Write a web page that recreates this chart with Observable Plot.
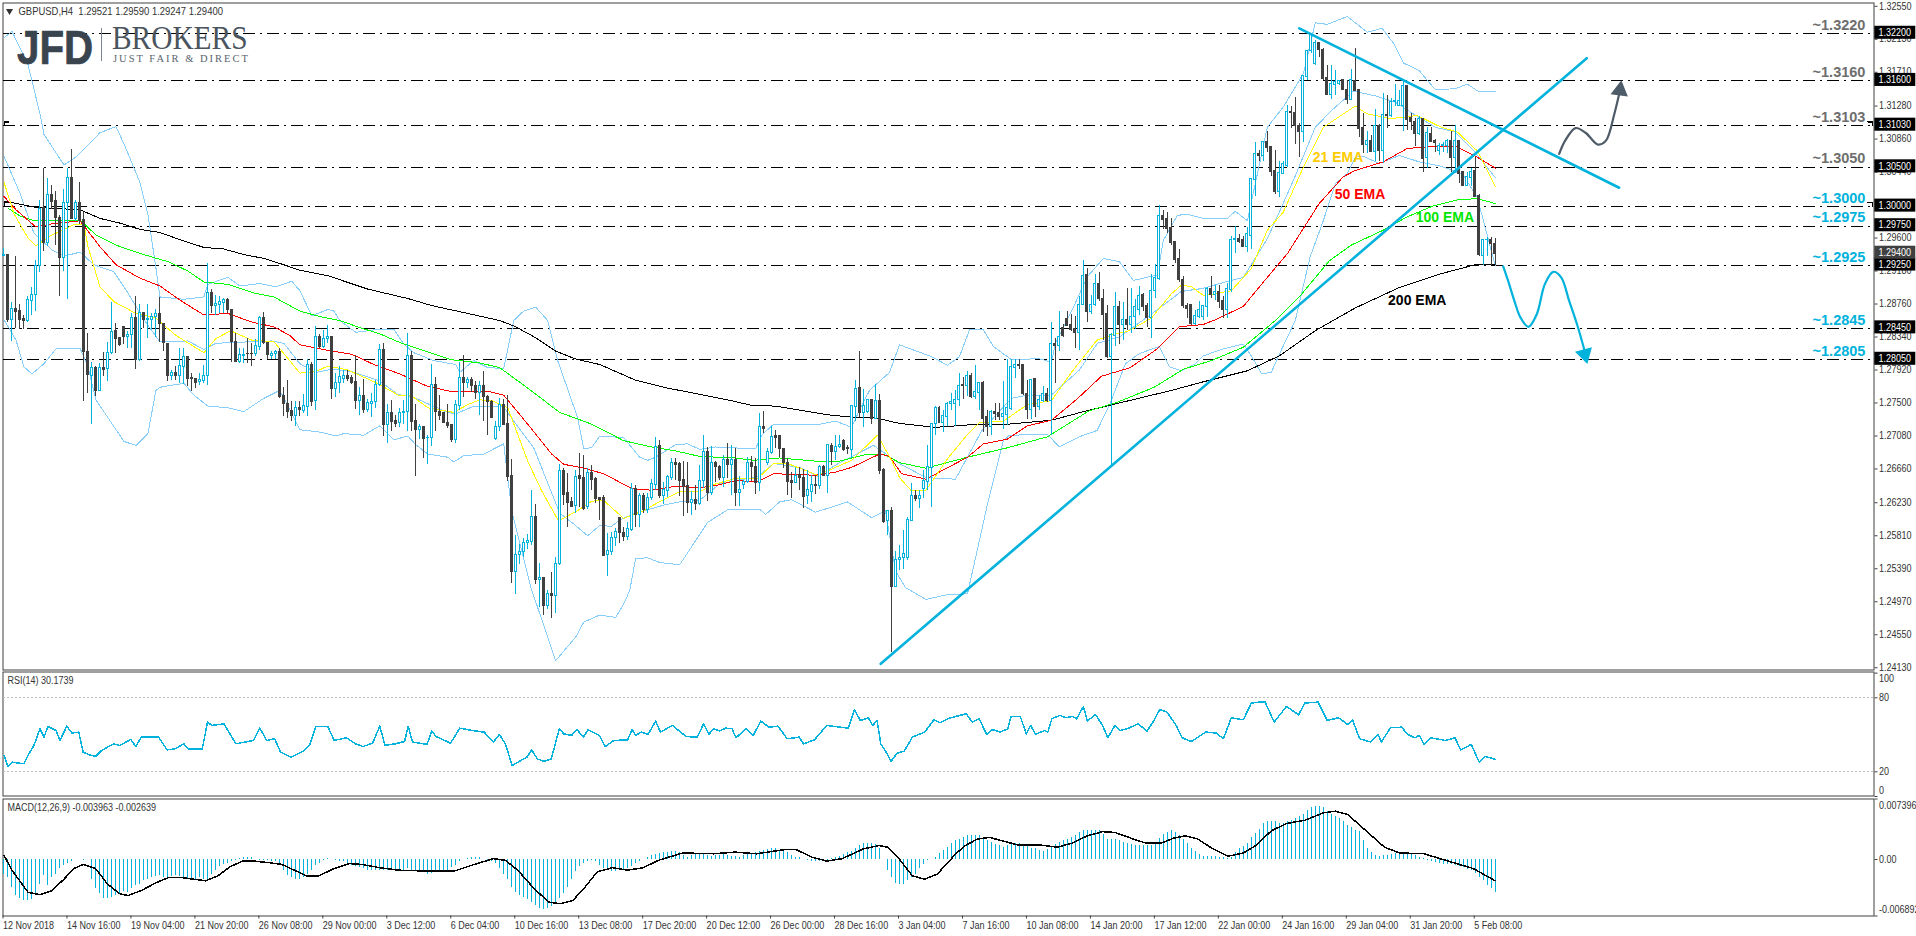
<!DOCTYPE html>
<html><head><meta charset="utf-8">
<script src="https://cdn.jsdelivr.net/npm/d3@7"></script>
<script src="https://cdn.jsdelivr.net/npm/@observablehq/plot@0.6"></script>
<style>
html,body{margin:0;padding:0;background:#fff;overflow:hidden}
#chart{position:relative;width:1916px;height:936px;background:#fff}
#chart>div.pane{position:absolute;left:0}
#chart svg{display:block;background:transparent}
.logo{position:absolute;white-space:nowrap;transform-origin:left top;line-height:1}
</style></head><body><div id="chart"></div>
<script>
// Prices are in ten-thousandths (12975 = 1.2975); one row per ten bars.
const open=[12937,12939,12856,12870,12867,12857,12854,12880,12888,12925,
12998,12954,13015,13007,12986,12935,13004,13037,12984,13004,
12983,12815,12785,12795,12765,12794,12793,12814,12842,12833,
12847,12834,12836,12858,12805,12864,12856,12856,12859,12863,
12850,12825,12785,12788,12784,12796,12808,12782,12780,12777,
12778,12785,12890,12874,12875,12877,12881,12869,12828,12802,
12810,12813,12813,12812,12821,12858,12826,12810,12813,12815,
12759,12749,12740,12734,12744,12740,12745,12799,12752,12834,
12821,12831,12834,12768,12775,12781,12785,12782,12777,12753,
12759,12741,12749,12751,12773,12817,12722,12737,12727,12725,
12737,12738,12810,12727,12716,12720,12705,12705,12773,12739,
12737,12725,12722,12703,12746,12782,12775,12779,12772,12763,
12771,12758,12751,12704,12719,12748,12723,12657,12535,12557,
12560,12572,12573,12605,12525,12527,12492,12507,12504,12545,
12663,12635,12624,12619,12657,12654,12617,12661,12653,12629,
12629,12556,12560,12578,12603,12585,12580,12588,12640,12608,
12631,12614,12629,12646,12695,12631,12638,12654,12674,12672,
12652,12644,12623,12626,12622,12651,12688,12635,12674,12669,
12654,12677,12671,12677,12635,12646,12650,12673,12669,12648,
12719,12674,12686,12708,12708,12691,12674,12651,12648,12658,
12655,12631,12637,12646,12644,12668,12657,12695,12688,12694,
12702,12693,12690,12745,12769,12737,12738,12754,12730,12752,
12665,12600,12612,12516,12550,12553,12553,12600,12632,12628,
12640,12650,12667,12723,12744,12725,12732,12749,12749,12754,
12773,12771,12785,12758,12763,12775,12732,12719,12739,12737,
12732,12735,12742,12795,12799,12798,12762,12741,12780,12745,
12753,12761,12753,12825,12823,12846,12857,12849,12844,12839,
12875,12913,12866,12875,12901,12883,12863,12809,12835,12872,
12849,12856,12849,12860,12869,12888,12874,12858,12892,12908,
12988,12984,12973,12955,12933,12906,12873,12875,12851,12860,
12859,12872,12895,12888,12891,12880,12868,12894,12957,12959,
12957,12949,12963,13034,13067,13065,13082,13076,13045,13019,
13042,13052,13120,13119,13103,13095,13165,13198,13182,13208,
13200,13164,13142,13155,13156,13161,13149,13136,13160,13148,
13100,13079,13084,13070,13103,13071,13117,13115,13133,13128,
13128,13153,13113,13108,13092,13111,13062,13093,13083,13071,
13077,13077,13084,13062,13084,13044,13026,13037,13045,13013,
12937,12957,12957,12952];
const high=[12947,12939,12878,12936,12875,12862,12885,12897,12931,13008,
13048,13036,13027,13019,12989,13022,13048,13073,13008,13031,
12993,12839,12802,12797,12800,12814,12827,12878,12851,12833,
12847,12841,12864,12885,12875,12864,12875,12864,12869,12884,
12850,12825,12792,12796,12820,12820,12808,12788,12780,12788,
12798,12928,12894,12887,12885,12883,12883,12869,12839,12819,
12819,12832,12826,12831,12860,12865,12827,12815,12817,12820,
12770,12779,12752,12752,12752,12761,12806,12802,12847,12837,
12842,12849,12834,12787,12797,12791,12791,12785,12810,12770,
12780,12755,12762,12779,12825,12826,12748,12753,12734,12743,
12753,12839,12816,12748,12723,12720,12708,12799,12783,12760,
12737,12748,12722,12753,12801,12811,12782,12782,12778,12778,
12790,12759,12753,12727,12756,12755,12759,12678,12581,12570,
12577,12583,12638,12621,12546,12528,12511,12534,12553,12672,
12666,12660,12630,12664,12686,12683,12666,12671,12655,12630,
12632,12584,12585,12590,12603,12592,12598,12647,12645,12635,
12635,12635,12652,12706,12702,12649,12658,12679,12679,12674,
12675,12674,12637,12645,12671,12709,12693,12694,12675,12671,
12683,12698,12696,12692,12656,12651,12681,12682,12679,12736,
12739,12692,12720,12715,12708,12691,12679,12662,12668,12668,
12665,12664,12658,12658,12671,12671,12697,12698,12709,12708,
12703,12696,12747,12779,12816,12767,12755,12754,12773,12761,
12666,12613,12617,12561,12568,12588,12604,12647,12638,12638,
12664,12696,12724,12745,12746,12741,12750,12762,12766,12788,
12783,12790,12788,12798,12776,12778,12741,12741,12749,12749,
12778,12805,12805,12805,12805,12798,12779,12780,12781,12760,
12771,12769,12853,12832,12867,12850,12866,12863,12860,12885,
12932,12921,12887,12913,12916,12894,12874,12839,12891,12879,
12878,12896,12896,12882,12898,12889,12877,12913,12926,13002,
12995,12993,12985,12955,12945,12911,12877,12875,12868,12879,
12874,12897,12911,12900,12900,12885,12902,12962,12975,12964,
12962,12974,13035,13082,13071,13083,13095,13077,13071,13057,
13058,13129,13128,13139,13106,13167,13199,13221,13212,13209,
13201,13180,13180,13173,13161,13161,13161,13175,13201,13149,
13118,13096,13091,13123,13104,13144,13142,13137,13156,13148,
13161,13154,13118,13112,13115,13112,13101,13101,13086,13080,
13082,13086,13095,13103,13084,13044,13044,13049,13063,13016,
12958,12961,12961,12959];
const low=[12936,12852,12828,12845,12844,12843,12853,12861,12867,12916,
12943,12949,12996,12951,12885,12917,12882,12983,12981,12977,
12752,12762,12723,12758,12764,12784,12777,12812,12813,12822,
12824,12819,12819,12793,12803,12845,12832,12843,12834,12827,
12815,12777,12779,12779,12775,12773,12771,12764,12769,12772,
12775,12772,12864,12862,12864,12864,12864,12802,12802,12800,
12800,12800,12796,12809,12817,12825,12805,12805,12805,12756,
12733,12730,12726,12720,12733,12736,12733,12746,12741,12820,
12819,12826,12754,12757,12762,12775,12778,12774,12742,12734,
12736,12738,12731,12743,12771,12707,12698,12714,12719,12719,
12723,12714,12714,12657,12704,12679,12672,12695,12714,12728,
12724,12718,12700,12698,12741,12757,12768,12763,12755,12734,
12726,12709,12731,12702,12714,12721,12650,12520,12506,12545,
12553,12564,12568,12519,12490,12479,12487,12476,12482,12543,
12619,12591,12617,12609,12617,12613,12615,12638,12622,12600,
12554,12529,12556,12567,12571,12574,12575,12587,12592,12592,
12609,12609,12626,12639,12628,12621,12630,12651,12651,12631,
12606,12609,12607,12613,12620,12641,12625,12632,12649,12651,
12643,12654,12632,12618,12618,12640,12647,12650,12634,12637,
12711,12671,12685,12692,12680,12666,12632,12629,12647,12639,
12616,12621,12623,12634,12640,12656,12635,12671,12677,12692,
12688,12685,12679,12726,12731,12719,12736,12723,12729,12659,
12597,12581,12432,12515,12537,12538,12549,12600,12624,12616,
12628,12638,12617,12709,12725,12712,12720,12741,12720,12746,
12754,12758,12756,12754,12741,12713,12707,12708,12728,12728,
12716,12721,12741,12781,12793,12760,12729,12729,12732,12741,
12751,12751,12709,12775,12816,12833,12847,12841,12820,12817,
12874,12853,12863,12873,12879,12830,12807,12671,12822,12825,
12830,12842,12839,12844,12862,12866,12846,12832,12883,12906,
12971,12966,12951,12927,12904,12870,12858,12849,12849,12858,
12855,12859,12883,12881,12870,12857,12857,12891,12940,12953,
12948,12941,12946,13013,13057,13058,13069,13038,13016,13012,
13041,13050,13099,13079,13062,13081,13161,13195,13180,13190,
13161,13142,13136,13142,13154,13148,13130,13135,13147,13088,
13068,13068,13069,13057,13057,13055,13100,13114,13127,13127,
13096,13097,13097,13077,13091,13043,13049,13081,13069,13065,
13069,13067,13044,13042,13029,13026,13025,13025,13011,12937,
12925,12937,12925,12925];
const close=[12939,12856,12870,12866,12856,12855,12881,12888,12925,12997,
12954,13015,13006,12985,12935,13004,13036,12984,13004,12982,
12815,12786,12794,12765,12794,12792,12814,12841,12831,12824,
12834,12837,12858,12805,12864,12856,12857,12859,12863,12850,
12827,12784,12788,12785,12797,12808,12781,12781,12776,12779,
12785,12890,12874,12876,12878,12881,12868,12828,12802,12811,
12811,12812,12812,12822,12858,12826,12811,12813,12815,12757,
12749,12739,12734,12743,12741,12746,12798,12751,12834,12821,
12832,12834,12768,12775,12783,12784,12780,12775,12753,12759,
12741,12750,12751,12773,12817,12722,12737,12726,12723,12737,
12738,12810,12726,12716,12720,12704,12706,12773,12738,12733,
12724,12721,12703,12747,12782,12775,12779,12771,12763,12771,
12757,12751,12731,12720,12748,12722,12656,12535,12557,12560,
12572,12574,12605,12525,12527,12492,12507,12504,12545,12663,
12633,12623,12618,12656,12653,12615,12661,12652,12628,12627,
12555,12561,12578,12586,12584,12580,12589,12640,12608,12631,
12614,12629,12647,12694,12631,12639,12656,12674,12671,12651,
12643,12623,12626,12621,12651,12687,12635,12673,12668,12654,
12677,12671,12677,12635,12639,12650,12673,12668,12648,12719,
12717,12687,12707,12706,12691,12674,12649,12648,12657,12654,
12630,12639,12646,12644,12668,12657,12696,12688,12694,12696,
12690,12692,12746,12768,12737,12746,12754,12730,12752,12664,
12599,12612,12516,12550,12553,12558,12601,12631,12628,12631,
12651,12668,12723,12743,12725,12733,12749,12751,12754,12772,
12771,12785,12757,12764,12775,12730,12719,12739,12736,12732,
12736,12743,12796,12799,12797,12761,12741,12779,12745,12754,
12761,12753,12825,12822,12834,12835,12848,12843,12839,12875,
12912,12866,12875,12901,12882,12862,12809,12836,12872,12849,
12856,12849,12860,12872,12886,12872,12858,12892,12909,12988,
12983,12972,12954,12932,12906,12873,12870,12851,12861,12868,
12873,12895,12888,12891,12878,12868,12895,12957,12959,12955,
12949,12965,13035,13067,13065,13082,13074,13044,13018,13043,
13054,13120,13119,13102,13095,13166,13198,13219,13208,13199,
13163,13142,13156,13158,13160,13148,13136,13161,13147,13099,
13079,13084,13070,13103,13071,13117,13115,13133,13135,13135,
13153,13110,13108,13092,13111,13061,13094,13082,13081,13077,
13078,13084,13062,13084,13042,13026,13038,13044,13012,12938,
12957,12958,12952,12940];

// Moving averages and Bollinger Bands: [bar, price]
const ema21=[[0,13031],[2.5,12991],[6,12960],[8,12950],[12,12964],[13,12966],[17.5,12977],[20,12977],[21,12949],[24,12898],[27.5,12879],[33,12864],[38,12858],[43,12836],[50,12814],[53,12832],[56.7,12842],[62,12830],[67.5,12828],[70,12813],[74,12788],[78,12790],[81,12797],[86,12792],[93,12776],[99,12759],[102,12759],[106,12744],[112.5,12738],[116,12748],[119,12754],[122,12753],[126,12744],[131,12676],[134.5,12638],[138.7,12600],[143.5,12613],[147,12625],[150,12626],[155,12603],[160,12613],[163.5,12623],[169,12637],[174,12637],[178,12647],[183,12654],[188.5,12654],[192.5,12673],[196,12673],[203.5,12658],[212,12677],[218.5,12709],[222,12677],[224,12655],[227,12638],[230.6,12639],[236,12679],[241,12710],[244,12725],[250,12727],[256,12748],[262,12753],[267,12789],[273.4,12830],[278,12838],[281,12841],[287,12858],[292,12889],[294.5,12900],[297,12898],[300,12887],[303,12889],[307,12893],[312,12921],[316,12970],[320,12993],[325,13050],[330,13101],[335,13118],[338,13128],[341,13118],[347,13112],[353.5,13116],[359.5,13101],[363.5,13095],[368.5,13071],[373,13026]];
const ema50=[[0,13013],[3,12996],[8,12974],[12,12978],[19,12982],[24,12949],[28,12926],[34,12909],[39,12899],[44,12881],[50,12862],[56,12864],[62,12853],[67.5,12847],[71.5,12836],[74,12824],[80,12818],[87,12812],[92.5,12799],[99,12787],[106,12771],[112.5,12764],[121,12765],[125,12760],[131,12723],[137,12685],[140,12672],[145,12667],[150,12660],[157,12641],[162,12639],[168,12644],[174,12642],[178,12645],[183,12651],[188.5,12650],[192.5,12660],[203,12658],[208,12662],[212,12668],[219,12685],[221.5,12682],[224.5,12660],[230.6,12653],[241,12681],[245,12698],[251,12704],[256,12721],[262,12728],[268.4,12755],[274.5,12784],[281.7,12795],[288.5,12819],[294,12847],[300,12850],[303,12856],[310,12873],[316,12910],[321,12940],[329,13004],[335,13038],[338,13046],[345,13057],[351,13074],[356,13076],[363.5,13076],[368.5,13063],[373,13049]];
const ema100=[[1,12998],[4,12988],[7.5,12982],[12,12982],[19,12983],[23,12964],[28,12951],[32.5,12943],[37.5,12935],[41,12930],[46,12918],[50,12904],[56,12901],[62.5,12890],[67.5,12885],[74,12867],[79,12860],[84,12855],[89,12846],[94,12838],[99,12827],[106,12815],[112,12805],[119,12801],[124,12795],[131,12769],[139,12738],[146,12725],[149,12718],[155,12702],[162,12694],[168,12689],[174,12682],[183,12680],[187.5,12677],[194,12680],[203,12676],[209,12676],[216,12685],[220,12685],[224,12674],[230.6,12667],[241,12681],[251,12693],[261,12707],[271.4,12740],[278.5,12751],[287.7,12770],[295,12793],[302,12804],[310,12821],[318,12855],[324,12885],[331.5,12931],[337,12951],[345,12970],[351,12987],[357.5,13001],[364,13009],[368.5,13010],[373,13004]];
const ema200=[[0,13007],[8,12999],[19,12996],[24,12985],[29,12979],[34,12971],[39,12967],[44,12958],[50,12948],[55,12946],[60,12939],[65,12934],[70,12926],[74,12919],[81,12912],[91,12895],[101,12883],[107,12874],[116,12864],[124,12855],[128,12847],[133,12833],[138,12816],[143,12806],[149,12799],[158,12779],[166,12769],[173,12762],[181,12754],[187,12747],[193,12746],[199,12741],[206,12735],[212,12732],[218,12731],[224,12724],[233,12719],[241,12722],[251,12723],[262,12728],[270,12739],[275,12745],[283,12755],[292,12766],[300,12777],[311,12791],[319,12810],[328,12842],[338,12871],[349,12897],[359,12914],[368,12926],[373,12926]];
const bbUpper=[[0,13215],[2,13223],[6,13181],[9,13118],[10,13092],[15,13053],[18,13063],[24,13094],[28,13102],[30,13080],[34,13031],[36,12990],[38,12922],[39,12885],[45,12882],[50,12885],[51,12901],[56,12910],[59,12899],[64,12902],[68,12898],[72,12905],[74,12893],[77,12861],[81,12869],[82.5,12867],[84,12855],[88,12840],[94,12844],[97.5,12844],[100,12825],[102.5,12814],[107.5,12804],[113,12799],[114,12789],[117.5,12804],[121,12795],[125,12794],[127.5,12855],[130,12867],[133,12872],[136,12855],[138.5,12804],[143.5,12731],[145,12692],[147,12693],[149,12708],[155,12706],[159,12681],[161,12677],[163,12681],[168,12697],[171,12698],[174,12691],[178,12694],[181.5,12693],[188,12692],[189.5,12709],[192.5,12723],[203,12722],[208,12727],[212,12719],[214,12741],[216.5,12766],[221.5,12789],[224,12824],[232,12809],[236,12798],[239,12809],[241.5,12843],[245,12843],[247.5,12822],[252,12805],[255,12805],[258.5,12807],[262,12802],[263,12826],[267.5,12872],[271,12911],[275,12934],[279,12930],[282.5,12906],[288.5,12913],[290,12957],[293.5,12989],[296,12990],[300,12985],[306,12985],[308,12994],[311,12982],[316,13101],[320,13127],[325,13169],[328,13234],[331,13232],[336,13242],[341,13222],[344.7,13227],[347.7,13207],[350,13183],[354,13173],[358,13149],[363,13150],[366,13156],[369,13146],[373,13147]];
const bbMiddle=[[0,13064],[4,13017],[7.5,12966],[12,12945],[15,12937],[19,12942],[22.5,12926],[27.5,12917],[31,12890],[35,12856],[39,12828],[42.5,12828],[46,12829],[50,12818],[53,12826],[57.5,12827],[62,12828],[67,12829],[70,12826],[74,12800],[78,12789],[82,12793],[87,12790],[94,12778],[98.5,12761],[102.5,12757],[111,12738],[113,12736],[117.5,12746],[125,12745],[127.5,12727],[132.5,12693],[139,12610],[142.5,12596],[146,12581],[149,12594],[152,12593],[154,12601],[157.5,12609],[165,12620],[169,12624],[174,12626],[179,12647],[183,12651],[188.5,12656],[192.5,12673],[199,12668],[203.5,12657],[209,12674],[217.5,12696],[224,12673],[230.6,12655],[238,12653],[244.6,12715],[252,12756],[256,12760],[262,12760],[269,12792],[273.5,12826],[279,12834],[287.5,12865],[294.5,12892],[300,12896],[304,12902],[310,12910],[316,12959],[322.5,13033],[328,13101],[332,13122],[337.5,13147],[343,13141],[348,13133],[352.5,13118],[358,13101],[363,13095],[368,13069],[373,13037]];
const bbLower=[[0,12856],[3,12830],[5,12796],[7,12787],[10,12800],[13,12819],[19,12820],[21,12796],[23,12754],[27.5,12720],[30,12701],[33,12696],[36,12711],[38,12766],[39,12770],[42.5,12773],[45,12775],[47.5,12760],[51,12746],[56,12744],[60,12739],[65,12756],[69,12766],[72,12737],[74,12716],[79,12713],[83,12708],[85,12711],[90,12709],[94,12721],[97.5,12703],[101,12708],[103,12697],[106,12685],[111,12681],[112.5,12675],[115,12683],[120,12685],[125,12698],[127,12613],[131.8,12515],[138,12422],[143,12452],[145,12471],[149,12480],[153,12477],[155,12494],[156.5,12511],[158,12552],[161,12553],[164,12547],[169,12544],[172,12567],[176,12598],[181,12614],[189,12615],[190.5,12608],[194,12624],[197,12627],[203,12611],[211,12624],[217,12604],[220.5,12613],[223,12536],[225.5,12515],[230.6,12500],[236,12506],[241,12507],[246,12621],[250,12702],[251.5,12709],[261,12710],[264,12694],[269,12707],[273.4,12715],[276.5,12747],[280.5,12800],[284,12813],[289,12822],[291.5,12796],[294.5,12791],[298,12800],[300,12810],[305,12819],[310,12825],[312,12810],[314.6,12787],[317,12789],[319,12812],[323,12855],[326.7,12936],[330,12982],[333,13029],[336,13042],[338,13063],[340,13064],[344,13055],[349,13065],[354,13057],[359,13052],[362.5,13046],[365,13040],[368.5,13012],[373,12925]];

// Drawn objects
const risingTrend=[[219.3,12418],[395.9,13189]];
const fallingTrend=[[324,13227],[404,13024]];
const pathUp=[[389,13067],[390.5,13084],[393.1,13100],[395.6,13094],[398.7,13079],[400.7,13084],[402.8,13118],[404.3,13150]];
const pathDown=[[375,12924],[376.2,12906],[377.8,12880],[379.3,12859],[381.3,12847],[383.4,12863],[385.4,12901],[387.5,12917],[389.5,12910],[391.5,12880],[393.6,12848],[395.6,12812]];
const levels=[1.322,1.316,1.3103,1.305,1.3,1.2975,1.2925,1.2845,1.2805];
const levelTexts=["~1.3220","~1.3160","~1.3103","~1.3050","~1.3000","~1.2975","~1.2925","~1.2845","~1.2805"];
const levelColors=["#6e6e6e","#6e6e6e","#6e6e6e","#6e6e6e","#00b2dc","#00b2dc","#00b2dc","#00b2dc","#00b2dc"];
const priceTicks=[1.3255,1.3213,1.3171,1.3128,1.3086,1.3044,1.296,1.2918,1.2876,1.2834,1.2792,1.275,1.2708,1.2666,1.2623,1.2581,1.2539,1.2497,1.2455,1.2413];
const emaLabels=[{t:"21 EMA",x:333.7,p:1.3062,c:"#ffcc00"},{t:"50 EMA",x:339.2,p:1.3015,c:"#ff0000"},{t:"100 EMA",x:360.4,p:1.2986,c:"#00e600"},{t:"200 EMA",x:353.5,p:1.288,c:"#000000"}];
const hookLevels=[1.3103,1.3];

// RSI(14): [bar, value]
const rsi=[[0,33.2],[1,24.3],[2,27.8],[5,26.5],[6,33.2],[7.5,41.4],[9,54.9],[10,48.1],[11,56.8],[13,53.5],[14,45.4],[15.7,57],[17,51.4],[18.7,52.2],[19.8,35.9],[21.3,33.8],[22.9,32.4],[24.4,37.3],[27.4,42.7],[29,41.4],[31.7,46.2],[33,40.5],[34.3,48.1],[38.6,48.4],[40.8,37.8],[42.8,38.6],[45,42.7],[46.1,38.6],[49.6,38.6],[50.9,60.3],[52,57.6],[55,58.9],[58,42.7],[62.4,45.4],[64,55.4],[65.7,45.4],[67.7,46.8],[69.2,35.9],[71.8,31.9],[74.9,36.8],[76.4,41.4],[78,56.8],[81,56.8],[82.6,45.4],[85.6,47.6],[87.9,42.7],[89.8,40.5],[92.2,43.2],[94,57],[95.3,41.4],[97.9,42.7],[100.2,44.6],[101.1,56.8],[102.2,44.1],[105.8,42.2],[107,53],[108.1,48.6],[111.7,43.2],[114,55.4],[117,53.5],[120.1,52.2],[122.4,44.1],[123.9,50.3],[125.4,42.7],[127.1,25.1],[130.8,31.9],[132,37.8],[133.4,30.5],[135.1,28.4],[136.9,30.5],[138.9,54.9],[140,50.8],[142,49.5],[143.3,54.3],[144.9,48.1],[146.1,54.1],[148.9,49.5],[150.4,40.5],[152.5,45.4],[156,45.9],[157.1,54.3],[158,49.5],[159.4,52.2],[161.1,50.3],[163,61.1],[164.2,52.2],[167.2,57.6],[170.6,48.6],[173.4,48.1],[175,58.9],[176.3,50.3],[177.5,54.9],[179,53],[180.5,55.4],[182.1,54.9],[183.1,47.6],[185.6,54.9],[187.4,49.5],[189.3,61.1],[191.3,56.2],[193.6,57],[195.9,46.8],[198.9,48.1],[200,42.7],[202.7,45.9],[205.8,57.6],[211.2,55.4],[212.7,70.3],[214.2,61.6],[216.2,63.8],[217.3,57.6],[218.4,61.6],[219.3,42.7],[220.4,37.3],[221.9,28.6],[223.4,35.1],[225.2,36.8],[227.2,48.1],[230.3,52.2],[232.6,62.2],[234.1,59.7],[236.1,63],[238.1,64.9],[240.7,67],[242.2,60.3],[243.9,63],[245.8,50.3],[247.3,54.3],[249.1,52.2],[251.1,54.9],[251.9,64.9],[254.2,64.9],[255.7,50.8],[256.8,57.6],[258,50.3],[260.3,53.5],[261.1,52.2],[262.1,63],[264.1,65.7],[265.7,63.8],[267.2,64.9],[268.3,63],[270,73],[271,61.1],[273,66.5],[274.8,57.6],[276.1,47.6],[277.9,57.6],[279.1,53.5],[281,54.9],[283.7,58.9],[285.9,53],[287.4,60.3],[289.1,70.5],[290.9,68.4],[293.2,57.6],[294.7,47.6],[297,44.6],[300.6,52.2],[303.2,51.4],[305,46.8],[307,63.8],[310,62.2],[312,75.7],[313.9,76.5],[315.4,76.8],[317.7,60.3],[320.8,73],[323.8,66.2],[325.4,75.7],[328.7,76.5],[331,61.6],[333.8,63.8],[336.1,58.4],[337.3,62.2],[339.1,46.8],[341.9,44.1],[343.7,50.3],[344.5,44.1],[346.8,55.7],[349.6,56.2],[351.1,50.3],[352.9,47.6],[354,49.5],[355.2,42.2],[356.8,47.6],[360.6,45.4],[362.9,47.6],[364.4,37.8],[367,42.2],[369,27.8],[370.5,32.4],[373,30.2]];

// MACD(12,26,9): histogram per bar and signal line, both in 0.0001
const macdHist=[-18,-22,-34,-44,-48,-50,-50,-49,-42,-31,
-20,-32,-22,-18,-11,-7,-5,-2,0,0,
-1,0,-24,-36,-42,-48,-48,-47,-44,-42,
-39,-40,-35,-32,-30,-26,-25,-22,-21,-20,
-22,-24,-21,-20,-21,-22,-24,-24,-24,-22,
-24,-26,-18,-13,-9,-6,-5,-3,-1,1,
2,3,2,0,-1,-1,-1,-2,-3,-6,
-13,-20,-22,-24,-24,-22,-18,-13,-7,-5,
-1,1,0,-1,-2,-3,-5,-7,-9,-10,
-11,-13,-13,-13,-14,-13,-13,-13,-14,-13,
-13,-11,-13,-14,-14,-15,-18,-17,-14,-14,
-13,-13,-10,-7,-3,0,1,2,2,2,
0,-1,-3,-5,-11,-18,-24,-34,-40,-44,
-47,-49,-52,-56,-60,-61,-60,-57,-54,-48,
-42,-34,-24,-15,-9,-5,-2,-1,-3,-7,
-11,-13,-15,-15,-14,-13,-11,-9,-5,-2,
0,3,5,6,7,8,9,10,10,8,
5,3,5,6,7,6,5,4,5,5,
6,5,4,4,3,5,6,7,8,10,
11,12,13,13,11,10,8,5,3,2,
0,-1,-2,-3,-3,-2,-1,1,3,4,
6,8,10,14,17,19,20,20,18,14,
0,-13,-22,-29,-31,-31,-26,-22,-18,-11,
-6,-1,0,3,7,11,15,19,23,24,
27,29,29,29,29,26,23,21,18,17,
15,17,19,20,19,18,16,14,13,11,
10,12,15,18,21,23,25,27,29,33,
35,36,36,36,35,31,25,24,24,23,
21,19,18,17,17,17,17,17,20,26,
31,33,35,33,29,24,20,13,10,6,
4,4,4,4,3,2,1,3,8,13,
16,19,27,32,37,44,46,46,46,44,
44,46,48,50,52,55,60,63,65,65,
64,59,55,53,50,46,42,39,36,34,
23,13,9,5,4,5,5,6,7,8,
9,8,7,5,3,1,-1,-2,-4,-5,
-6,-6,-6,-7,-9,-10,-12,-13,-17,-22,
-26,-32,-36,-40];
const macdSignal=[[0,5],[2,-13],[6,-40],[9,-43],[12,-38],[15,-24],[17.5,-11],[19.8,-6],[22.9,-11],[25.9,-30],[29,-42],[31,-44],[34.3,-38],[38.2,-28],[41.2,-22],[44.3,-22],[47.4,-24],[50.4,-26],[53.5,-20],[56.5,-9],[59.6,-2],[62.7,-2],[66.5,-4],[69.5,-6],[72.6,-13],[75.7,-20],[78.7,-20],[82.6,-11],[86.4,-5],[89.5,-6],[94,-10],[98.6,-13],[104.8,-14],[112.7,-14],[117,-7],[122.4,1],[125.4,-1],[128.5,-13],[132.3,-34],[136.2,-52],[139.2,-54],[142.3,-50],[145.3,-34],[148.4,-15],[152.2,-10],[156,-13],[159.9,-10],[163.7,-1],[169.8,8],[177.5,7],[182.8,9],[188.2,7],[195.1,12],[198.2,12],[202,3],[205.8,-2],[209.6,1],[215,13],[218.8,17],[221.1,15],[224.2,-1],[227.2,-20],[230.3,-24],[233.4,-18],[238.1,7],[240.4,17],[243.5,25],[246.5,27],[249.6,23],[253.4,18],[258.8,18],[263.4,15],[267.2,20],[271,29],[274.8,34],[277.9,33],[282.5,25],[285.6,20],[289.4,20],[292.5,26],[295.5,29],[298.6,25],[302.4,13],[306.2,4],[310,8],[313.1,17],[317,35],[320.8,44],[325.4,48],[330,57],[333,59],[336.1,55],[340.7,35],[345.3,15],[349.1,8],[355.2,7],[360.6,-1],[367.5,-11],[373,-26]];

const dateLabels=["12 Nov 2018","14 Nov 16:00","19 Nov 04:00","21 Nov 20:00","26 Nov 08:00","29 Nov 00:00","3 Dec 12:00","6 Dec 04:00","10 Dec 16:00","13 Dec 08:00","17 Dec 20:00","20 Dec 12:00","26 Dec 00:00","28 Dec 16:00","3 Jan 04:00","7 Jan 16:00","10 Jan 08:00","14 Jan 20:00","17 Jan 12:00","22 Jan 00:00","24 Jan 16:00","29 Jan 04:00","31 Jan 20:00","5 Feb 08:00"];
const barsPerDateLabel=16;

const INK="#404040", BLUE="#00b2dc", BAND="#87cefa", AXISFONT="'Liberation Sans Narrow','Liberation Sans',sans-serif";
const toPts=a=>a.map(([x,p])=>({x,y:p/1e4}));
const bars=open.map((o,i)=>({i,o:o/1e4,h:high[i]/1e4,l:low[i]/1e4,c:close[i]/1e4}));
const up=bars.filter(d=>d.c>=d.o), down=bars.filter(d=>d.c<d.o);
const xDomain=[-0.25,467.75];
const base={width:1916,marginLeft:2.5,marginRight:42.5,x:{domain:xDomain,axis:null}};
const crisp={shapeRendering:"crispEdges"};
const lineOf=(a,stroke)=>Plot.line(toPts(a),{x:"x",y:"y",stroke,strokeWidth:1,...crisp});
const trendOf=a=>Plot.line(toPts(a),{x:"x",y:"y",stroke:BLUE,strokeWidth:2.6});
const axisText={fontFamily:AXISFONT,fontSize:10,fill:"#333"};
const boxX1=467.95, boxX2=478.2, boxTextX=468.9;
const boxed=[...levels.map(p=>({p,f:"#000"})),{p:1.294,f:"#404040"}];

const main=Plot.plot({...base,height:671,marginTop:2.5,marginBottom:1.5,
  y:{domain:[1.24101,1.32592],axis:null},
  style:{background:"transparent"},
  marks:[
    Plot.frame({stroke:INK}),
    Plot.ruleY(levels,{stroke:"#000",strokeDasharray:"12 5 2 5",...crisp}),
    lineOf(bbUpper,BAND),lineOf(bbMiddle,BAND),lineOf(bbLower,BAND),
    lineOf(ema200,"#000"),lineOf(ema100,"#00ff00"),lineOf(ema50,"#ff0000"),lineOf(ema21,"#ffff00"),
    Plot.ruleX(down,{x:"i",y1:"l",y2:"h",stroke:INK,...crisp}),
    Plot.ruleX(up,{x:"i",y1:"l",y2:"h",stroke:BLUE,...crisp}),
    Plot.rect(down,{x1:d=>d.i-.25,x2:d=>d.i+.25,y1:"o",y2:"c",fill:INK,stroke:INK,...crisp}),
    Plot.rect(up,{x1:d=>d.i-.25,x2:d=>d.i+.25,y1:"o",y2:"c",fill:"#fff",stroke:BLUE,...crisp}),
    trendOf(risingTrend),trendOf(fallingTrend),
    Plot.line(toPts(pathUp),{x:"x",y:"y",stroke:"#4e5b68",strokeWidth:2.2,curve:"catmull-rom"}),
    Plot.line(toPts(pathDown),{x:"x",y:"y",stroke:BLUE,strokeWidth:2.2,curve:"catmull-rom"}),
    Plot.dot([{x:404.2,y:1.3148}],{x:"x",y:"y",symbol:"triangle",r:6.5,fill:"#4e5b68",rotate:8}),
    Plot.dot([{x:395.4,y:1.2812}],{x:"x",y:"y",symbol:"triangle",r:6.5,fill:BLUE,rotate:165}),
    ...hookLevels.flatMap(p=>[
      Plot.line([{x:0.1,y:p},{x:0.1,y:p+.0005},{x:1.2,y:p+.0005}],{x:"x",y:"y",stroke:"#000",...crisp}),
      Plot.line([{x:466.2,y:p+.0005},{x:467.4,y:p+.0005},{x:467.4,y:p}],{x:"x",y:"y",stroke:"#000",...crisp})
    ]),
    Plot.axisY(priceTicks,{anchor:"right",label:null,tickSize:3,tickPadding:2,tickFormat:d=>d.toFixed(5),stroke:INK,...axisText,textAnchor:"start"}),
    Plot.rect(boxed,{x1:boxX1,x2:boxX2,y1:d=>d.p-0.00083,y2:d=>d.p+0.00083,fill:"f",dy:-1}),
    Plot.text(boxed,{x:boxTextX,y:"p",text:d=>d.p.toFixed(5),fill:"#fff",textAnchor:"start",fontFamily:AXISFONT,fontSize:10,dy:-1}),
    Plot.text(levels,{x:465.6,y:d=>d,text:(d,k)=>levelTexts[k],fill:(d,k)=>levelColors[k],textAnchor:"end",fontFamily:"'Liberation Sans',sans-serif",fontWeight:"bold",fontSize:14.5,dy:-8.5}),
    Plot.text(emaLabels,{x:"x",y:"p",text:"t",fill:"c",fontFamily:"'Liberation Sans',sans-serif",fontWeight:"bold",fontSize:14}),
    Plot.text(["GBPUSD,H4\u00a0\u00a01.29521 1.29590 1.29247 1.29400"],{frameAnchor:"top-left",dx:15.5,dy:5,fontFamily:AXISFONT,fontSize:10.5,fill:"#333",textAnchor:"start"}),
    Plot.dot([0],{frameAnchor:"top-left",dx:6.5,dy:8,symbol:"triangle",r:2.6,fill:"#333",rotate:180})
  ]});

const rsiPlot=Plot.plot({...base,height:126,marginTop:.5,marginBottom:1.5,
  y:{domain:[0.4,100.9],axis:null},
  style:{background:"transparent"},
  marks:[
    Plot.frame({stroke:INK}),
    Plot.ruleY([20,80],{stroke:"#bdbdbd",strokeDasharray:"2 2",...crisp}),
    Plot.line(rsi.map(([x,y])=>({x,y})),{x:"x",y:"y",stroke:BLUE,...crisp}),
    Plot.axisY([100,80,20,0],{anchor:"right",label:null,tickSize:3,tickPadding:2,stroke:INK,tickFormat:()=>""}),
    Plot.text([80,20],{y:d=>d,text:d=>String(d),frameAnchor:"right",dx:5,...axisText,textAnchor:"start"}),
    Plot.text([100],{y:d=>d,text:d=>String(d),frameAnchor:"right",dx:5,dy:6,...axisText,textAnchor:"start"}),
    Plot.text([0],{y:d=>d,text:d=>String(d),frameAnchor:"right",dx:5,dy:-6,...axisText,textAnchor:"start"}),
    Plot.text(["RSI(14) 30.1739"],{frameAnchor:"top-left",dx:4.5,dy:5,...axisText,textAnchor:"start"})
  ]});

const macdPlot=Plot.plot({...base,height:139,marginTop:1.5,marginBottom:20.5,
  y:{domain:[-0.0069,0.00739],axis:null},
  style:{background:"transparent"},
  marks:[
    Plot.frame({stroke:INK}),
    Plot.ruleX(bars,{x:"i",y1:()=>0,y2:d=>macdHist[d.i]/1e4,stroke:BLUE,...crisp}),
    Plot.line(toPts(macdSignal),{x:"x",y:"y",stroke:"#000",...crisp}),
    Plot.axisY([0.00739,0,-0.0069],{anchor:"right",label:null,tickSize:3,tickPadding:2,stroke:INK,tickFormat:()=>""}),
    Plot.text([0],{y:d=>d,text:()=>"0.00",frameAnchor:"right",dx:5,...axisText,textAnchor:"start"}),
    Plot.text([0.00739],{y:d=>d,text:()=>"0.007396",frameAnchor:"right",dx:5,dy:7,...axisText,textAnchor:"start"}),
    Plot.text([-0.0069],{y:d=>d,text:()=>"-0.006892",frameAnchor:"right",dx:5,dy:-6,...axisText,textAnchor:"start"}),
    Plot.text(["MACD(12,26,9) -0.003963 -0.002639"],{frameAnchor:"top-left",dx:4.5,dy:5,...axisText,textAnchor:"start"}),
    Plot.axisX(dateLabels.map((_,k)=>k*barsPerDateLabel),{anchor:"bottom",label:null,tickSize:3,tickPadding:3,stroke:INK,tickFormat:d=>dateLabels[d/barsPerDateLabel],...axisText,textAnchor:"start",dx:-1})
  ]});

const chart=document.getElementById("chart");
[[main,0],[rsiPlot,671],[macdPlot,797]].forEach(([p,top])=>{
  const d=document.createElement("div");d.className="pane";d.style.top=top+"px";d.appendChild(p);chart.appendChild(d);
});
// The chart's Tahoma-like labels are condensed: narrow the Liberation glyphs to the same widths.
chart.querySelectorAll('g[font-family*="Narrow"] text').forEach(t=>{
  const w=t.getComputedTextLength();
  if(w>0){t.setAttribute("textLength",(w*.9).toFixed(1));t.setAttribute("lengthAdjust","spacingAndGlyphs");}
});
const logos=[
 {t:"JFD",css:"left:17px;top:20px;font:bold 48px 'Liberation Sans';-webkit-text-stroke:.7px #3a444e;color:#3a444e;transform:scaleX(.84)"},
 {t:"BROKERS",css:"left:112px;top:20px;font:33px 'Liberation Serif';color:#4a545e;transform:scaleX(.89)"},
 {t:"JUST FAIR & DIRECT",css:"left:113px;top:53px;font:10.5px 'Liberation Serif';letter-spacing:2px;color:#5a646e"}
];
logos.forEach(l=>{const s=document.createElement("div");s.className="logo";s.style.cssText=l.css;s.textContent=l.t;chart.appendChild(s);});
const bar=document.createElement("div");bar.className="logo";bar.style.cssText="left:101px;top:28px;width:1px;height:33px;background:#7a848e";chart.appendChild(bar);
</script></body></html>
